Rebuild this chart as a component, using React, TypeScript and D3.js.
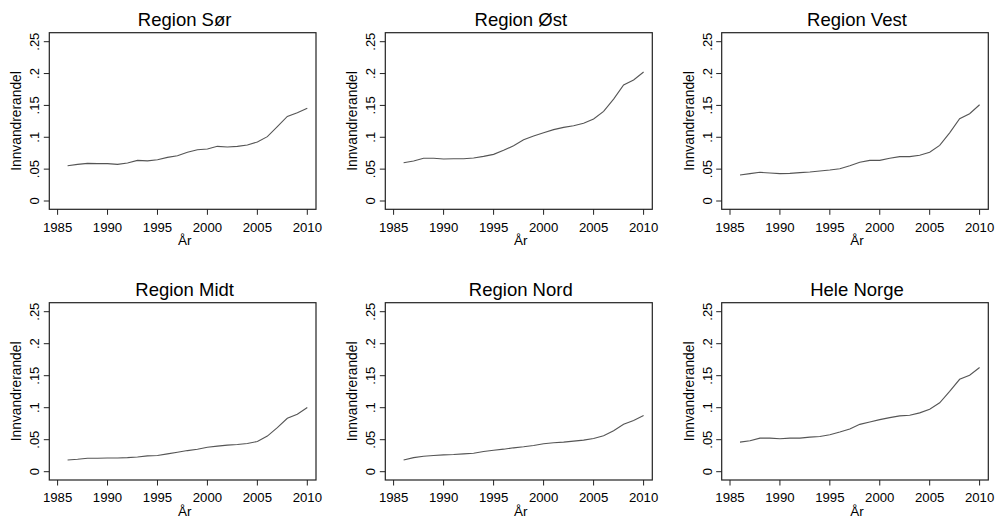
import React from "react";
import * as d3 from "d3";

const years = d3.range(1986, 2011);

const regionNames = ["Region Sør", "Region Øst", "Region Vest", "Region Midt", "Region Nord", "Hele Norge"];

const sor = [0.0554, 0.0575, 0.059, 0.0586, 0.0586, 0.0575, 0.0596, 0.0638, 0.063, 0.0648, 0.0685, 0.071, 0.0764, 0.0805, 0.0816, 0.0858, 0.0847, 0.0858, 0.0879, 0.0926, 0.101, 0.1166, 0.1328, 0.1386, 0.1454];
const ost = [0.060, 0.0628, 0.067, 0.067, 0.066, 0.0664, 0.0664, 0.0675, 0.070, 0.0732, 0.0795, 0.0868, 0.0962, 0.102, 0.1072, 0.112, 0.1156, 0.118, 0.1219, 0.1287, 0.1407, 0.160, 0.182, 0.19, 0.2024];
const vest = [0.0408, 0.0429, 0.045, 0.044, 0.0429, 0.0434, 0.0445, 0.0455, 0.047, 0.0486, 0.0507, 0.0554, 0.0607, 0.0638, 0.0638, 0.067, 0.0696, 0.0696, 0.0717, 0.0764, 0.0873, 0.107, 0.129, 0.137, 0.151];
const midt = [0.0184, 0.0194, 0.021, 0.021, 0.0215, 0.0215, 0.022, 0.023, 0.0247, 0.0252, 0.0278, 0.0305, 0.033, 0.035, 0.0383, 0.040, 0.0415, 0.0425, 0.044, 0.0473, 0.0557, 0.0688, 0.0835, 0.0898, 0.1003];
const nord = [0.0184, 0.022, 0.0242, 0.0252, 0.0263, 0.0268, 0.0278, 0.0289, 0.0315, 0.0336, 0.0352, 0.0373, 0.0389, 0.041, 0.0436, 0.0452, 0.0462, 0.0478, 0.0494, 0.052, 0.0562, 0.064, 0.074, 0.080, 0.0877];
const norge = [0.0462, 0.0483, 0.0525, 0.0525, 0.0515, 0.0525, 0.0525, 0.054, 0.055, 0.0578, 0.062, 0.0667, 0.074, 0.0777, 0.0814, 0.0845, 0.0872, 0.0882, 0.0919, 0.0977, 0.1077, 0.1255, 0.1444, 0.1507, 0.1628];

const seriesList = [sor, ost, vest, midt, nord, norge];

const xTicks = [1985, 1990, 1995, 2000, 2005, 2010];
const yTicks = [0, 0.05, 0.1, 0.15, 0.2, 0.25];
const yTickLabels = ["0", ".05", ".1", ".15", ".2", ".25"];

const colLefts = [49.3, 385.3, 721.7];
const colRights = [316, 652.3, 988.3];
const rowTops = [32.7, 302.7];
const rowBottoms = [209.3, 480];

const FONT = "'Liberation Sans', Arial, sans-serif";

function Panel({ idx }: { idx: number }) {
  const c = idx % 3;
  const r = Math.floor(idx / 3);
  const L = colLefts[c], R = colRights[c], T = rowTops[r], B = rowBottoms[r];
  const x = d3.scaleLinear().domain([1985, 2010]).range([L + 8.3, R - 8.7]);
  const y = d3.scaleLinear().domain([0, 0.25]).range([B - 8.3, T + 9]);
  const line = d3
    .line<number>()
    .x((_, i) => x(years[i]))
    .y((d) => y(d));
  const cx = (L + R) / 2;
  const cy = (T + B) / 2;
  return (
    <g>
      <text x={cx + 2} y={T - 6.5} textAnchor="middle" fontFamily={FONT} fontSize={18.5} fill="#000">
        {regionNames[idx]}
      </text>
      <rect x={L} y={T} width={R - L} height={B - T} fill="none" stroke="#222" strokeWidth={1.2} />
      {yTicks.map((t, i) => (
        <g key={"y" + i}>
          <line x1={L - 5.5} x2={L} y1={y(t)} y2={y(t)} stroke="#222" strokeWidth={1} />
          <text
            transform={`translate(${L - 10},${y(t)}) rotate(-90)`}
            textAnchor="middle"
            fontFamily={FONT}
            fontSize={13}
            fill="#000"
          >
            {yTickLabels[i]}
          </text>
        </g>
      ))}
      {xTicks.map((t, i) => (
        <g key={"x" + i}>
          <line x1={x(t)} x2={x(t)} y1={B} y2={B + 5.5} stroke="#222" strokeWidth={1} />
          <text x={x(t)} y={B + 22.3} textAnchor="middle" fontFamily={FONT} fontSize={13.2} fill="#000">
            {t}
          </text>
        </g>
      ))}
      <text
        transform={`translate(${L - 28},${cy}) rotate(-90)`}
        textAnchor="middle"
        fontFamily={FONT}
        fontSize={13.8}
        fill="#000"
      >
        Innvandrerandel
      </text>
      <text x={cx + 2} y={B + 35.5} textAnchor="middle" fontFamily={FONT} fontSize={13.5} fill="#000">
        År
      </text>
      <path d={line(seriesList[idx]) || ""} fill="none" stroke="#555" strokeWidth={1.1} />
    </g>
  );
}

export default function App() {
  return (
    <svg
      width={998}
      height={521}
      style={{ position: "absolute", left: 0, top: 0, background: "#fff", display: "block" }}
    >
      <rect x={0} y={0} width={998} height={521} fill="#fff" />
      {regionNames.map((_, i) => (
        <Panel key={i} idx={i} />
      ))}
    </svg>
  );
}
